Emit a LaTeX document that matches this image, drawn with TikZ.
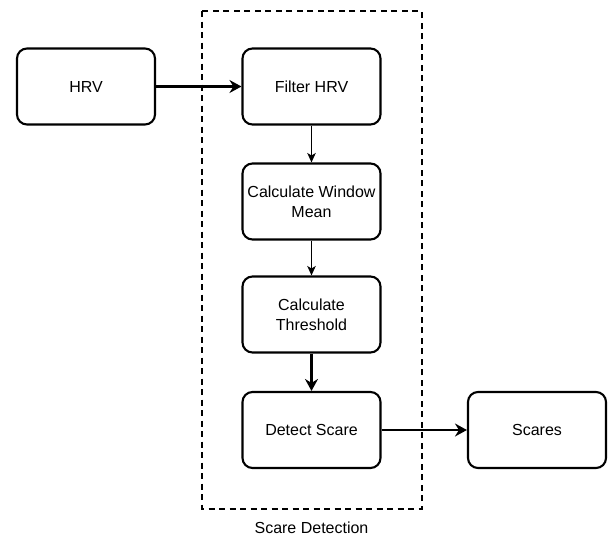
\documentclass[tikz,border=0pt]{standalone}
\usepackage{fontspec}
\setmainfont{Liberation Sans}
\usetikzlibrary{arrows.meta}
\tikzset{
  labelfont/.style={font=\fontsize{16}{20}\selectfont},
  proc/.style={draw, line width=2.1pt, rounded corners=10pt, minimum width=138pt,
    minimum height=76pt, align=center, inner sep=0pt, labelfont},
  thickarrow/.style={line width=2.6pt, -{Stealth[length=12pt,width=13pt,inset=4pt]}},
  thinarrow/.style={line width=1.2pt, -{Stealth[length=9.5pt,width=8.5pt,inset=2.5pt]}},
  groupbox/.style={draw, line width=2pt, dash pattern=on 6pt off 4.5pt}
}
\begin{document}
\begin{tikzpicture}[x=1pt,y=-1pt]
  \useasboundingbox (0,0) rectangle (608,539);
  % dashed grouping frame
  \draw[groupbox] (202,11) rectangle (421.5,508.5);
  \node[labelfont] (grouplabel) at (311.5,528) {Scare Detection};
  % process steps
  \node[proc] (hrv) at (86,86.5) {HRV};
  \node[proc] (filter) at (311.5,86.5) {Filter HRV};
  \node[proc] (mean) at (311.5,201.5) {Calculate Window\\Mean};
  \node[proc] (thresh) at (311.5,314.5) {Calculate\\Threshold};
  \node[proc] (detect) at (311.5,430) {Detect Scare};
  \node[proc] (scares) at (537,430) {Scares};
  % connectors
  \draw[thickarrow] (hrv) -- (filter);
  \draw[thinarrow] (filter) -- (mean);
  \draw[thinarrow] (mean) -- (thresh);
  \draw[thickarrow] (thresh) -- (detect);
  \draw[thickarrow] (detect) -- (scares);
\end{tikzpicture}
\end{document}
